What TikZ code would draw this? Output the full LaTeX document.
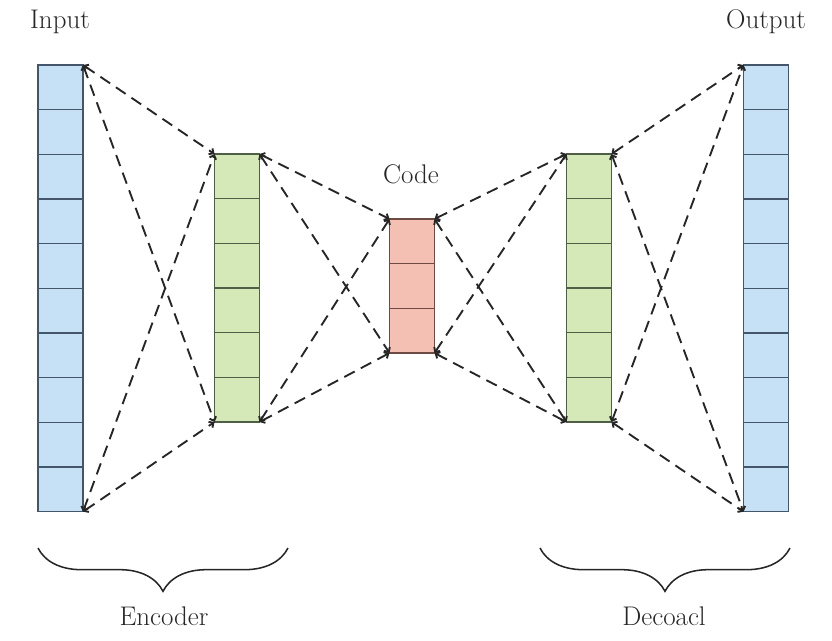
\documentclass[tikz,border=0pt]{standalone}
\usepackage{tikz}
\usetikzlibrary{arrows.meta,decorations.pathreplacing}
\definecolor{inblue}{HTML}{C6E0F5}
\definecolor{inline}{HTML}{44566A}
\definecolor{hidgreen}{HTML}{D4E8B8}
\definecolor{hidline}{HTML}{4F5F45}
\definecolor{codered}{HTML}{F4C0B4}
\definecolor{codeline}{HTML}{6E4A42}
\definecolor{txt}{HTML}{262626}
\tikzset{
    every node/.style={outer sep=0pt, inner sep=0pt},
    cell/.style={rectangle, draw, line width=1.1pt, minimum width=1.35cm,
        minimum height=1.34cm}
}
\tikzset{
    link/.style={line width=1.6pt, color=black!85, dash pattern=on 10pt off 6pt,
        {Straight Barb[length=3pt,width=6pt]}-{Straight Barb[length=3pt,width=6pt]}}
}
\tikzset{
    title/.style={anchor=base, text=txt, font=\fontsize{23}{27}\selectfont},
    bracket/.style={line width=1.3pt, color=black!85,
        decorate, decoration={brace, mirror, amplitude=1.3cm, aspect=0.5}}
}

\begin{document}
\begin{tikzpicture}[x=0.03cm, y=-0.03cm]
	\useasboundingbox (0,0) rectangle (832,641);
	
	\foreach \i in {1,...,10}
		\node[cell, fill=inblue, draw=inline] (in\i) at (60.5, {65+(\i-0.5)*44.67}) {};
	\foreach \i in {1,...,6}
		\node[cell, fill=hidgreen, draw=hidline] (enc\i) at (237, {154+(\i-0.5)*44.67}) {};
	\foreach \i in {1,...,3}
		\node[cell, fill=codered, draw=codeline] (code\i) at (412, {219+(\i-0.5)*44.67}) {};
	\foreach \i in {1,...,6}
		\node[cell, fill=hidgreen, draw=hidline] (dec\i) at (589, {154+(\i-0.5)*44.67}) {};
	\foreach \i in {1,...,10}
		\node[cell, fill=inblue, draw=inline] (out\i) at (766, {65+(\i-0.5)*44.67}) {};
	
	\node (input) [title] at (60, 28) {Input};
	\node (output) [title] at (766, 28) {Output};
	\node (code) [title] at (411, 183) {Code};
	\node (encoder) [title] at (164, 625) {Encoder};
	\node (decoder) [title] at (664, 625) {Decoacl};
	
	\draw[link] (in1.north east) -- (enc1.north west);
	\draw[link] (in1.north east) -- (enc6.south west);
	\draw[link] (in10.south east) -- (enc1.north west);
	\draw[link] (in10.south east) -- (enc6.south west);
	
	\draw[link] (enc1.north east) -- (code1.north west);
	\draw[link] (enc1.north east) -- (code3.south west);
	\draw[link] (enc6.south east) -- (code1.north west);
	\draw[link] (enc6.south east) -- (code3.south west);
	
	\draw[link] (code1.north east) -- (dec1.north west);
	\draw[link] (code1.north east) -- (dec6.south west);
	\draw[link] (code3.south east) -- (dec1.north west);
	\draw[link] (code3.south east) -- (dec6.south west);
	
	\draw[link] (dec1.north east) -- (out1.north west);
	\draw[link] (dec1.north east) -- (out10.south west);
	\draw[link] (dec6.south east) -- (out1.north west);
	\draw[link] (dec6.south east) -- (out10.south west);
	
	\coordinate (encL) at (38, 548);
	\coordinate (encR) at (288, 548);
	\coordinate (decL) at (540, 548);
	\coordinate (decR) at (790, 548);
	\draw[bracket] (encL) -- (encR);
	\draw[bracket] (decL) -- (decR);
\end{tikzpicture}
\end{document}
